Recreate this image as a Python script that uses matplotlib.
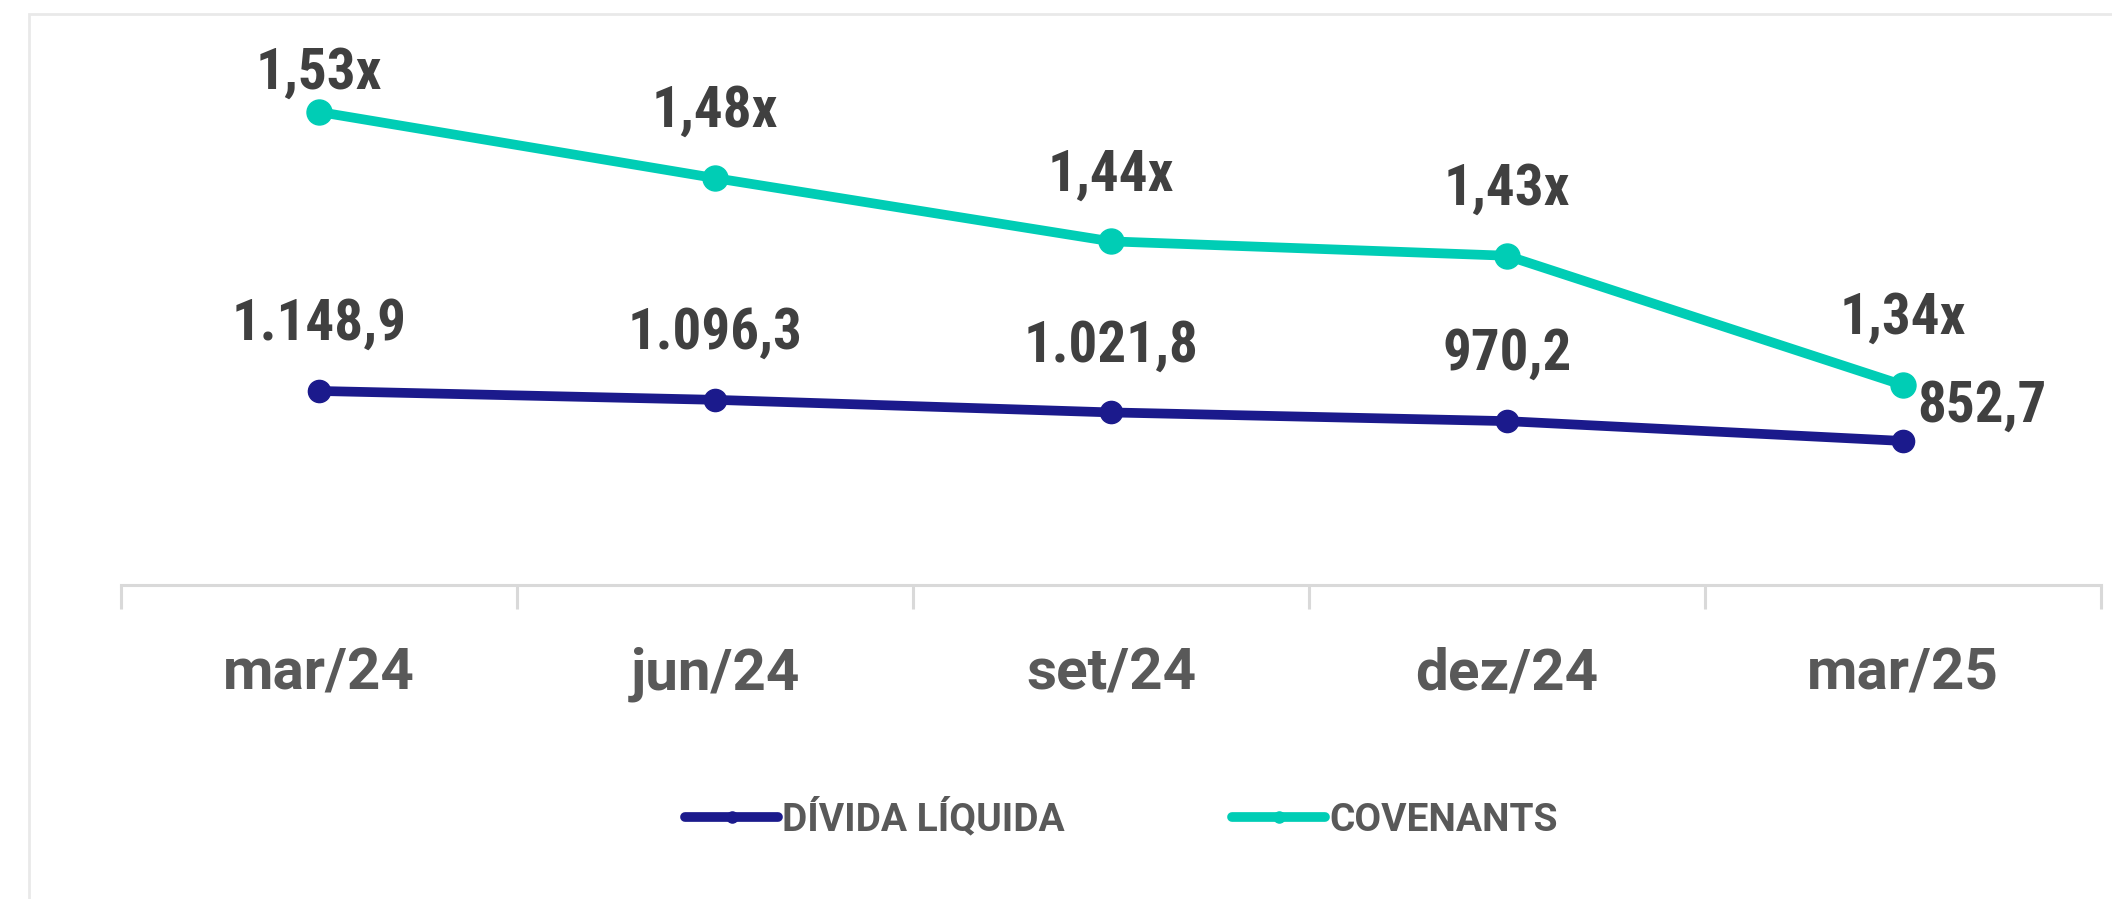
import matplotlib
matplotlib.use('Agg')
import matplotlib.pyplot as plt
from matplotlib.lines import Line2D
from matplotlib.patches import Rectangle

# ──────────────────────────────────────────────
# Data
# ──────────────────────────────────────────────
periods = ['mar/24', 'jun/24', 'set/24', 'dez/24', 'mar/25']
divida = [1148.9, 1096.3, 1021.8, 970.2, 852.7]
covenants = [1.53, 1.484, 1.44, 1.43, 1.34]
divida_labels = ['1.148,9', '1.096,3', '1.021,8', '970,2', '852,7']
covenant_labels = ['1,53x', '1,48x', '1,44x', '1,43x', '1,34x']

NAVY = '#1b1a8c'
TEAL = '#00cdb5'
FAM = ['Roboto Condensed', 'Roboto']
FONT = dict(family=FAM, fontstretch='condensed', fontweight='bold')

fig = plt.figure(figsize=(21.12, 8.99), dpi=100)

# light frame around the chart
fig.patches.append(Rectangle((29 / 2112, -0.05), 1.1, 1 - 14 / 899 + 0.05,
                             transform=fig.transFigure, fill=False,
                             edgecolor='#e9e9e9', linewidth=2))

ax = fig.add_axes([121 / 2112, 314 / 899, 1980 / 2112, 555 / 899])
ax2 = ax.twinx()

x = list(range(len(periods)))
ax.plot(x, divida, color=NAVY, lw=7, marker='o', ms=16,
        solid_capstyle='round', zorder=3)
ax2.plot(x, covenants, color=TEAL, lw=7, marker='o', ms=18,
         solid_capstyle='round', zorder=3)

ax.set_ylim(0, 3286)
ax2.set_ylim(1.201, 1.587)
ax.set_xlim(-0.5, 4.5)

# value labels
for i, (v, s) in enumerate(zip(divida, divida_labels)):
    off = (57, 25) if i == len(divida) - 1 else (0, 48)
    ax.annotate(s, (i, v), xytext=off, textcoords='offset points',
                ha='center', va='center', fontsize=41, color='#404040', **FONT)
for i, (v, s) in enumerate(zip(covenants, covenant_labels)):
    dy = 28 if i == 0 else 48
    ax2.annotate(s, (i, v), xytext=(0, dy), textcoords='offset points',
                 ha='center', va='center', fontsize=41, color='#404040', **FONT)

# axes styling
for a in (ax, ax2):
    for side in ('top', 'left', 'right'):
        a.spines[side].set_visible(False)
    a.set_yticks([])
ax2.spines['bottom'].set_visible(False)
ax.spines['bottom'].set_color('#d9d9d9')
ax.spines['bottom'].set_linewidth(2.2)

ax.set_xticks([i - 0.5 for i in range(len(periods) + 1)])
ax.set_xticklabels([])
ax.tick_params(axis='x', which='major', length=17, width=2.2, color='#d9d9d9')
ax.set_xticks(x, minor=True)
ax.set_xticklabels(periods, minor=True, fontsize=42, color='#595959',
                   family='Roboto', fontweight='bold')
ax.tick_params(axis='x', which='minor', length=0, pad=44)

# legend
handles = [Line2D([], [], color=NAVY, lw=7, marker='o', ms=8, solid_capstyle='round'),
           Line2D([], [], color=TEAL, lw=7, marker='o', ms=8, solid_capstyle='round')]
leg = fig.legend(handles, ['DÍVIDA LÍQUIDA', 'COVENANTS'], loc='center',
                 bbox_to_anchor=(0.531, 0.089), ncol=2, frameon=False,
                 handlelength=2.4, handletextpad=0.1, columnspacing=4.3,
                 prop=dict(size=28, weight='bold', family='Roboto'))
for t in leg.get_texts():
    t.set_color('#595959')

fig.savefig('out.png', dpi=100)
